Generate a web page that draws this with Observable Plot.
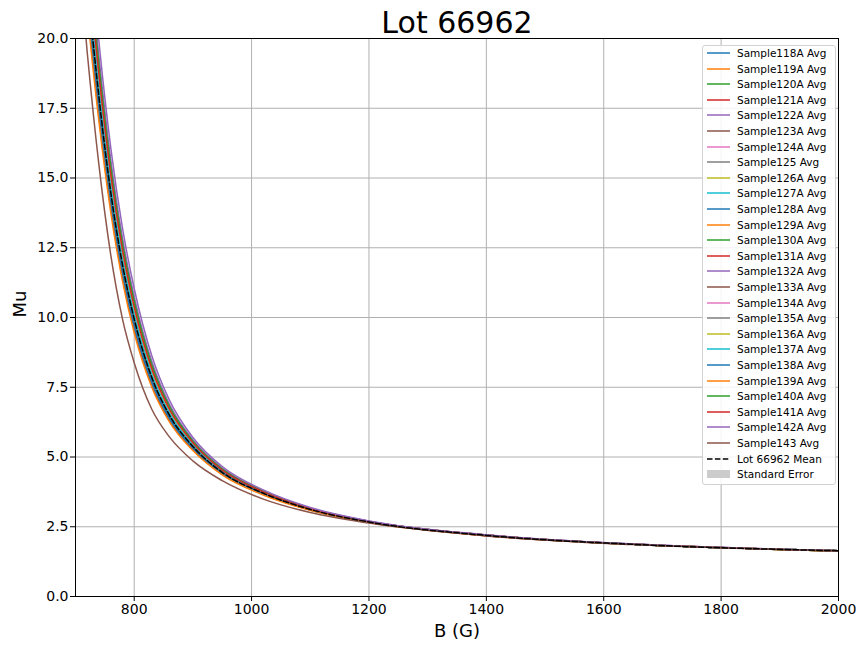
<!DOCTYPE html>
<html>
<head>
<meta charset="utf-8">
<script src="https://cdn.jsdelivr.net/npm/d3@7"></script>
<script src="https://cdn.jsdelivr.net/npm/@observablehq/plot@0.6"></script>
<style>
  body { margin: 0; background: #fff; font-family: "DejaVu Sans", sans-serif; }
  #wrap { position: relative; width: 861px; height: 647px; overflow: hidden; }
  #legend { position: absolute; left: 702px; top: 45px; width: 134px; height: 440px; box-sizing: border-box;
            border: 1px solid #d2d2d2; border-radius: 3px; background: rgba(255,255,255,0.85); }
  .row { position: absolute; left: 0; height: 16px; line-height: 16px; font-size: 10.5px; white-space: nowrap; color: #000; }
  .row svg { position: absolute; left: 3px; top: 3px; }
  .row span { position: absolute; left: 34px; top: 0; }
</style>
</head>
<body>
<div id="wrap"><div id="chart"></div><div id="legend"></div></div>
<script>
// ---- data ----
const fieldB = [700, 720, 740, 760, 780, 800, 830, 860, 900, 950, 1020, 1100, 1200, 1400, 1650, 2000];
const lotMean = [27.5, 22.1, 17.9, 14.5, 11.9, 9.95, 7.85, 6.5, 5.38, 4.45, 3.70, 3.12, 2.67, 2.19, 1.87, 1.64];
const lotSE = [0.24, 0.19, 0.16, 0.13, 0.10, 0.09, 0.06, 0.04, 0.03, 0.02, 0.01, 0.01, 0, 0, 0, 0];

const s118A = [27.78, 22.32, 18.08, 14.65, 12.02, 10.05, 7.92, 6.55, 5.41, 4.47, 3.71, 3.13, 2.67, 2.19, 1.87, 1.64];
const s119A = [26.68, 21.44, 17.36, 14.07, 11.54, 9.65, 7.64, 6.35, 5.29, 4.39, 3.67, 3.10, 2.66, 2.19, 1.87, 1.64];
const s120A = [29.15, 23.43, 18.97, 15.37, 12.61, 10.55, 8.27, 6.79, 5.55, 4.56, 3.77, 3.16, 2.69, 2.20, 1.87, 1.64];
const s121A = [28.60, 22.98, 18.62, 15.08, 12.38, 10.35, 8.13, 6.70, 5.50, 4.52, 3.74, 3.15, 2.68, 2.20, 1.87, 1.64];
const s122A = [29.70, 23.87, 19.33, 15.66, 12.85, 10.75, 8.42, 6.89, 5.61, 4.60, 3.79, 3.17, 2.70, 2.20, 1.88, 1.64];
const s123A = [26.95, 21.66, 17.54, 14.21, 11.66, 9.75, 7.71, 6.40, 5.32, 4.41, 3.68, 3.11, 2.66, 2.19, 1.87, 1.64];
const s124A = [28.05, 22.54, 18.26, 14.79, 12.14, 10.15, 7.99, 6.60, 5.44, 4.49, 3.72, 3.13, 2.68, 2.19, 1.87, 1.64];
const s125  = [27.22, 21.88, 17.72, 14.36, 11.78, 9.85, 7.78, 6.45, 5.35, 4.43, 3.69, 3.11, 2.67, 2.19, 1.87, 1.64];
const s126A = [28.33, 22.76, 18.44, 14.94, 12.26, 10.25, 8.06, 6.65, 5.47, 4.51, 3.73, 3.14, 2.68, 2.19, 1.87, 1.64];
const s127A = [27.64, 22.21, 17.99, 14.57, 11.96, 10.00, 7.89, 6.52, 5.39, 4.46, 3.71, 3.12, 2.67, 2.19, 1.87, 1.64];
const s128A = [27.09, 21.77, 17.63, 14.28, 11.72, 9.80, 7.74, 6.43, 5.34, 4.42, 3.68, 3.11, 2.66, 2.19, 1.87, 1.64];
const s129A = [26.40, 21.22, 17.18, 13.92, 11.42, 9.55, 7.57, 6.31, 5.26, 4.38, 3.66, 3.10, 2.66, 2.18, 1.87, 1.64];
const s130A = [28.88, 23.21, 18.80, 15.23, 12.50, 10.45, 8.20, 6.74, 5.53, 4.54, 3.76, 3.15, 2.69, 2.20, 1.87, 1.64];
const s131A = [28.46, 22.87, 18.53, 15.01, 12.32, 10.30, 8.10, 6.67, 5.48, 4.52, 3.74, 3.14, 2.68, 2.20, 1.87, 1.64];
const s132A = [29.43, 23.65, 19.15, 15.52, 12.73, 10.65, 8.34, 6.84, 5.58, 4.58, 3.78, 3.16, 2.69, 2.20, 1.88, 1.64];
const s133A = [26.54, 21.33, 17.27, 13.99, 11.48, 9.60, 7.60, 6.33, 5.28, 4.38, 3.66, 3.10, 2.66, 2.18, 1.87, 1.64];
const s134A = [28.19, 22.65, 18.35, 14.86, 12.20, 10.20, 8.03, 6.62, 5.45, 4.50, 3.73, 3.14, 2.68, 2.19, 1.87, 1.64];
const s135A = [27.58, 22.17, 17.95, 14.54, 11.94, 9.98, 7.87, 6.51, 5.39, 4.46, 3.70, 3.12, 2.67, 2.19, 1.87, 1.64];
const s136A = [28.55, 22.94, 18.58, 15.05, 12.35, 10.33, 8.12, 6.69, 5.49, 4.52, 3.74, 3.14, 2.68, 2.20, 1.87, 1.64];
const s137A = [27.91, 22.43, 18.17, 14.72, 12.08, 10.10, 7.96, 6.57, 5.42, 4.48, 3.72, 3.13, 2.68, 2.19, 1.87, 1.64];
const s138A = [26.81, 21.55, 17.45, 14.14, 11.60, 9.70, 7.67, 6.38, 5.31, 4.40, 3.67, 3.10, 2.66, 2.19, 1.87, 1.64];
const s139A = [26.13, 21.00, 17.01, 13.78, 11.31, 9.45, 7.50, 6.26, 5.23, 4.36, 3.64, 3.09, 2.65, 2.18, 1.87, 1.64];
const s140A = [29.29, 23.54, 19.06, 15.44, 12.67, 10.60, 8.31, 6.82, 5.57, 4.57, 3.77, 3.16, 2.69, 2.20, 1.87, 1.64];
const s141A = [28.74, 23.09, 18.71, 15.15, 12.44, 10.40, 8.17, 6.72, 5.51, 4.53, 3.75, 3.15, 2.69, 2.20, 1.87, 1.64];
const s142A = [30.53, 24.53, 19.87, 16.10, 13.21, 11.04, 8.63, 7.04, 5.70, 4.66, 3.82, 3.19, 2.71, 2.21, 1.88, 1.64];
const s143  = [24.35, 19.50, 15.45, 12.25, 9.95, 8.38, 6.71, 5.72, 4.86, 4.15, 3.49, 3.01, 2.63, 2.17, 1.86, 1.63];

const sampleNames = ["Sample118A Avg","Sample119A Avg","Sample120A Avg","Sample121A Avg","Sample122A Avg",
  "Sample123A Avg","Sample124A Avg","Sample125 Avg","Sample126A Avg","Sample127A Avg","Sample128A Avg",
  "Sample129A Avg","Sample130A Avg","Sample131A Avg","Sample132A Avg","Sample133A Avg","Sample134A Avg",
  "Sample135A Avg","Sample136A Avg","Sample137A Avg","Sample138A Avg","Sample139A Avg","Sample140A Avg",
  "Sample141A Avg","Sample142A Avg","Sample143 Avg"];
const sampleSeries = [s118A,s119A,s120A,s121A,s122A,s123A,s124A,s125,s126A,s127A,s128A,s129A,s130A,
  s131A,s132A,s133A,s134A,s135A,s136A,s137A,s138A,s139A,s140A,s141A,s142A,s143];
const palette = ["#1f77b4","#ff7f0e","#2ca02c","#d62728","#9467bd","#8c564b","#e377c2","#7f7f7f","#bcbd22","#17becf"];
const meanLabel = "Lot 66962 Mean";
const seLabel = "Standard Error";
const xTicks = [800, 1000, 1200, 1400, 1600, 1800, 2000];
const yTicks = [0, 2.5, 5, 7.5, 10, 12.5, 15, 17.5, 20];

// ---- build tables ----
const sampleRows = sampleSeries.map((arr, i) => arr.map((v, j) => ({B: fieldB[j], mu: v, name: sampleNames[i]})));
const meanRows = fieldB.map((b, j) => ({B: b, mu: lotMean[j], lo: lotMean[j] - lotSE[j], hi: lotMean[j] + lotSE[j]}));

const lineMarks = sampleRows.map((rows, i) =>
  Plot.line(rows, {x: "B", y: "mu", stroke: palette[i % 10], strokeWidth: 1.5, curve: "monotone-x", clip: true}));

const chart = Plot.plot({
  width: 861, height: 647,
  marginLeft: 75, marginRight: 23, marginTop: 38, marginBottom: 51,
  style: {fontFamily: "DejaVu Sans", fontSize: "14px", background: "white", color: "black"},
  x: {domain: [700, 2000]},
  y: {domain: [0, 20]},
  marks: [
    Plot.gridX(xTicks, {stroke: "#b0b0b0", strokeOpacity: 1, strokeWidth: 1}),
    Plot.gridY(yTicks, {stroke: "#b0b0b0", strokeOpacity: 1, strokeWidth: 1}),
    ...lineMarks,
    Plot.areaY(meanRows, {x: "B", y1: "lo", y2: "hi", fill: "#808080", fillOpacity: 0.4, curve: "monotone-x", clip: true}),
    Plot.line(meanRows, {x: "B", y: "mu", stroke: "black", strokeWidth: 1.5, strokeDasharray: "5.5,2.4", curve: "monotone-x", clip: true}),
    Plot.frame({stroke: "black", strokeWidth: 1}),
    Plot.axisX(xTicks, {tickSize: 5, tickPadding: 3, fontSize: 14, label: null, tickFormat: d => String(d)}),
    Plot.axisY(yTicks, {tickSize: 5, tickPadding: 2, fontSize: 14, label: null, tickFormat: d => d.toFixed(1)}),
    Plot.text(["Lot 66962"], {frameAnchor: "top", dy: -15, fontSize: 30, lineAnchor: "middle"}),
    Plot.text(["B (G)"], {frameAnchor: "bottom", dy: 35, fontSize: 18, lineAnchor: "middle"}),
    Plot.text(["Mu"], {frameAnchor: "left", dx: -55, fontSize: 18, rotate: -90, lineAnchor: "middle"})
  ]
});
document.getElementById("chart").appendChild(chart);

// ---- legend ----
const legend = document.getElementById("legend");
const entries = sampleNames.map((n, i) => ({label: n, kind: "line", color: palette[i % 10]}))
  .concat([{label: meanLabel, kind: "dash", color: "black"}, {label: seLabel, kind: "patch", color: "#cccccc"}]);
entries.forEach((e, i) => {
  const row = document.createElement("div");
  row.className = "row";
  const cy = 53 + i * 15.6 - 45 - 1;
  row.style.top = (cy - 8) + "px";
  let sw;
  if (e.kind === "line") sw = `<svg width="24" height="10"><line x1="1" y1="5" x2="24" y2="5" stroke="${e.color}" stroke-width="1.5"/></svg>`;
  else if (e.kind === "dash") sw = `<svg width="24" height="10"><line x1="1" y1="5" x2="24" y2="5" stroke="black" stroke-width="1.5" stroke-dasharray="5.5,2.4"/></svg>`;
  else sw = `<svg width="24" height="10"><rect x="1" y="1" width="23" height="8" fill="${e.color}"/></svg>`;
  row.innerHTML = sw + `<span>${e.label}</span>`;
  legend.appendChild(row);
});
</script>
</body>
</html>
